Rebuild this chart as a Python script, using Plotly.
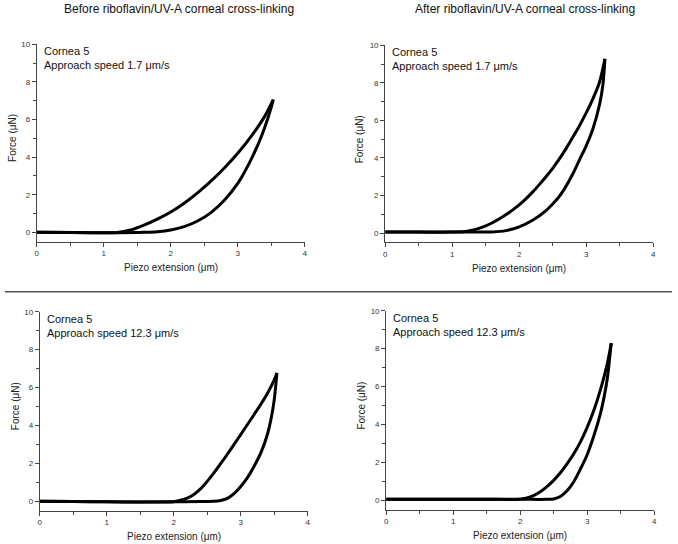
import plotly.graph_objects as go

# ---------------- data ----------------
# Panel A: before CXL, 1.7 um/s
a_load_x = [0.0, 0.5, 1.0, 1.2, 1.4, 1.6, 1.8, 2.0, 2.2, 2.4, 2.6, 2.8, 3.0, 3.2, 3.4, 3.53]
a_load_f = [0.0, -0.01, -0.02, -0.01, 0.12, 0.38, 0.7, 1.08, 1.55, 2.1, 2.72, 3.42, 4.2, 5.1, 6.15, 7.05]
a_unl_x = [3.53, 3.5, 3.4, 3.3, 3.2, 3.1, 3.0, 2.8, 2.6, 2.4, 2.2, 2.0, 1.8, 1.6, 1.2, 0.6, 0.0]
a_unl_f = [7.05, 6.65, 5.55, 4.65, 3.88, 3.2, 2.6, 1.7, 1.05, 0.6, 0.3, 0.12, 0.03, 0.0, -0.02, -0.01, 0.0]

# Panel B: after CXL, 1.7 um/s
b_load_x = [0.0, 0.5, 1.0, 1.2, 1.3, 1.4, 1.5, 1.6, 1.7, 1.8, 1.9, 2.0, 2.1, 2.2, 2.3, 2.4,
            2.5, 2.6, 2.7, 2.8, 2.9, 3.0, 3.1, 3.2, 3.28]
b_load_f = [0.05, 0.05, 0.05, 0.08, 0.15, 0.25, 0.38, 0.55, 0.75, 0.97, 1.22, 1.5, 1.82, 2.18, 2.58, 3.0,
            3.45, 3.95, 4.5, 5.1, 5.72, 6.4, 7.15, 8.05, 9.28]
b_unl_x = [3.28, 3.25, 3.2, 3.1, 3.0, 2.9, 2.8, 2.7, 2.6, 2.5, 2.4, 2.2, 2.0, 1.8, 1.6, 1.2, 0.6, 0.0]
b_unl_f = [9.28, 7.9, 6.85, 5.55, 4.65, 3.9, 3.15, 2.5, 1.95, 1.55, 1.2, 0.68, 0.33, 0.13, 0.06, 0.05, 0.05, 0.05]

# Panel C: before CXL, 12.3 um/s
c_load_x = [0.0, 0.5, 1.0, 1.5, 2.0, 2.1, 2.2, 2.3, 2.4, 2.5, 2.6, 2.7, 2.8, 2.9, 3.0, 3.1,
            3.2, 3.3, 3.4, 3.5, 3.54]
c_load_f = [0.0, -0.01, -0.03, -0.04, -0.02, 0.06, 0.17, 0.36, 0.65, 1.05, 1.5, 1.98, 2.48, 3.0, 3.52, 4.05,
            4.58, 5.12, 5.7, 6.4, 6.77]
c_unl_x = [3.54, 3.5, 3.45, 3.4, 3.3, 3.2, 3.1, 3.0, 2.9, 2.8, 2.7, 2.6, 2.4, 2.0, 1.0, 0.0]
c_unl_f = [6.77, 5.35, 4.3, 3.55, 2.55, 1.85, 1.25, 0.78, 0.4, 0.15, 0.04, 0.0, -0.01, -0.03, -0.03, 0.0]

# Panel D: after CXL, 12.3 um/s
d_load_x = [0.0, 0.5, 1.0, 1.5, 2.0, 2.1, 2.2, 2.3, 2.4, 2.5, 2.6, 2.7, 2.8, 2.9, 3.0, 3.1, 3.2, 3.3, 3.36]
d_load_f = [0.05, 0.05, 0.05, 0.05, 0.06, 0.12, 0.25, 0.45, 0.72, 1.05, 1.45, 1.92, 2.45, 3.08, 3.85, 4.75, 5.85, 7.2, 8.29]
d_unl_x = [3.36, 3.33, 3.3, 3.25, 3.2, 3.1, 3.0, 2.9, 2.8, 2.7, 2.6, 2.5, 2.4, 2.0, 1.0, 0.0]
d_unl_f = [8.29, 7.3, 6.4, 5.4, 4.6, 3.4, 2.4, 1.65, 0.98, 0.5, 0.2, 0.07, 0.05, 0.05, 0.05, 0.05]

column_titles = ["Before riboflavin/UV-A corneal cross-linking",
                 "After riboflavin/UV-A corneal cross-linking"]
panel_labels = ["Cornea 5<br>Approach speed 1.7 \u03bcm/s",
                "Cornea 5<br>Approach speed 1.7 \u03bcm/s",
                "Cornea 5<br>Approach speed 12.3 \u03bcm/s",
                "Cornea 5<br>Approach speed 12.3 \u03bcm/s"]
x_title = "Piezo extension (\u03bcm)"
y_title = "Force (\u03bcN)"
x_range = [0, 4]
y_range = [-0.5, 10]

# ---------------- figure ----------------
W, H = 678, 544
FONT = "Arial, Liberation Sans, sans-serif"

panels = [
    (a_load_x, a_load_f, a_unl_x, a_unl_f),
    (b_load_x, b_load_f, b_unl_x, b_unl_f),
    (c_load_x, c_load_f, c_unl_x, c_unl_f),
    (d_load_x, d_load_f, d_unl_x, d_unl_f),
]
# pixel boxes: (x0, x1, ytop, ybottom)
boxes = [(35, 305, 40.5, 239.5), (386, 656, 41.7, 240.2),
         (38, 308, 310, 510.5), (387, 657, 309, 509.5)]

fig = go.Figure()
layout = dict(width=W, height=H, margin=dict(l=0, r=0, t=0, b=0),
              paper_bgcolor="white", plot_bgcolor="white", showlegend=False,
              font=dict(family=FONT, color="#222"))
annotations = []
axis_col = "#444"

for i, (lx, lf, ux, uf) in enumerate(panels):
    n = i + 1
    xa = "x" if n == 1 else f"x{n}"
    ya = "y" if n == 1 else f"y{n}"
    for xs, fs in ((lx, lf), (ux, uf)):
        fig.add_trace(go.Scatter(x=xs, y=fs, mode="lines", xaxis=xa, yaxis=ya,
                                 line=dict(color="black", width=3, shape="spline", smoothing=0.8),
                                 hoverinfo="skip"))
    x0, x1, yt, yb = boxes[i]
    kx = "xaxis" if n == 1 else f"xaxis{n}"
    ky = "yaxis" if n == 1 else f"yaxis{n}"
    layout[kx] = dict(domain=[x0 / W, x1 / W], range=x_range, anchor=ya,
                      showgrid=False, zeroline=False, showline=True, linecolor=axis_col,
                      linewidth=1, ticks="outside", ticklen=4, tickcolor=axis_col,
                      dtick=1, tick0=0, tickfont=dict(size=8, color="#333"),
                      minor=dict(ticks="outside", ticklen=3, dtick=0.5, tickcolor=axis_col),
                      fixedrange=True)
    layout[ky] = dict(domain=[1 - yb / H, 1 - yt / H], range=y_range, anchor=xa,
                      showgrid=False, zeroline=False, showline=True, linecolor=axis_col,
                      linewidth=1, ticks="outside", ticklen=4, tickcolor=axis_col,
                      dtick=2, tick0=0, tickfont=dict(size=8, color="#333"),
                      minor=dict(ticks="outside", ticklen=3, dtick=1, tickcolor=axis_col),
                      fixedrange=True)
    # axis titles
    annotations.append(dict(text=x_title, xref="paper", yref="paper",
                            x=(x0 + x1) / 2 / W, y=1 - (yb + 26) / H,
                            xanchor="center", yanchor="middle", showarrow=False,
                            font=dict(size=10, color="#222")))
    annotations.append(dict(text=y_title, xref="paper", yref="paper",
                            x=(x0 - 25) / W, y=1 - ((yt + yb) / 2 - 5) / H, textangle=-90,
                            xanchor="center", yanchor="middle", showarrow=False,
                            font=dict(size=10, color="#222")))
    # panel label
    annotations.append(dict(text=panel_labels[i], xref="paper", yref="paper",
                            x=(x0 + 5) / W, y=1 - (yt - 1) / H, align="left",
                            xanchor="left", yanchor="top", showarrow=False,
                            font=dict(size=11, color="#111")))

for j, t in enumerate(column_titles):
    cx = [178, 527][j]
    annotations.append(dict(text=t, xref="paper", yref="paper", x=cx / W, y=1 - 5.5 / H,
                            xanchor="center", yanchor="middle", showarrow=False,
                            font=dict(size=12, color="#111")))

layout["annotations"] = annotations
layout["shapes"] = [dict(type="line", xref="paper", yref="paper",
                         x0=3 / W, x1=675 / W, y0=1 - 290 / H, y1=1 - 290 / H,
                         line=dict(color="#555", width=1.5))]
fig.update_layout(**layout)
fig.write_html("out.html", config={"displayModeBar": False, "staticPlot": True},
               post_script="document.body.style.margin='0px';document.body.style.overflow='hidden';")
